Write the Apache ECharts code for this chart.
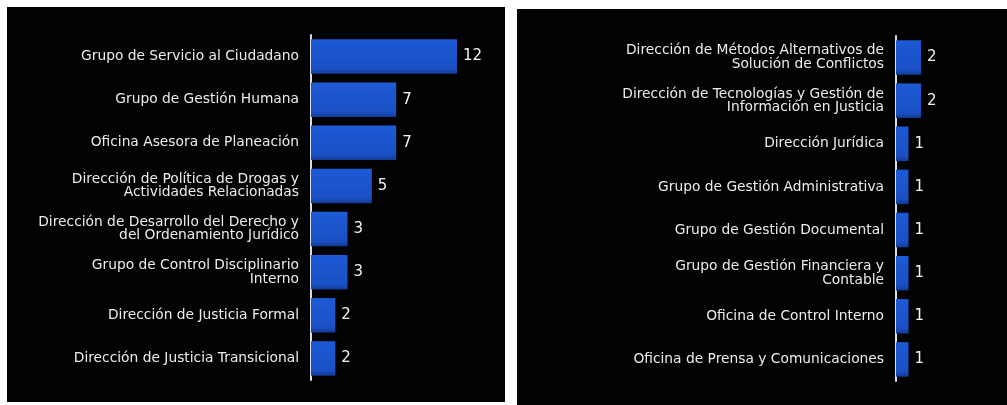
<!DOCTYPE html>
<html>
<head>
<meta charset="utf-8">
<script src="https://cdn.jsdelivr.net/npm/echarts@6/dist/echarts.min.js"></script>
<style>
html,body{margin:0;padding:0;background:#fff;}
#c{width:1007px;height:405px;}
</style>
</head>
<body>
<div id="c"></div>
<script>
// Data
var leftCategories = [
  'Grupo de Servicio al Ciudadano',
  'Grupo de Gestión Humana',
  'Oficina Asesora de Planeación',
  'Dirección de Política de Drogas y\nActividades Relacionadas',
  'Dirección de Desarrollo del Derecho y\ndel Ordenamiento Jurídico',
  'Grupo de Control Disciplinario\nInterno',
  'Dirección de Justicia Formal',
  'Dirección de Justicia Transicional'
];
var leftValues = [12, 7, 7, 5, 3, 3, 2, 2];

var rightCategories = [
  'Dirección de Métodos Alternativos de\nSolución de Conflictos',
  'Dirección de Tecnologías y Gestión de\nInformación en Justicia',
  'Dirección Jurídica',
  'Grupo de Gestión Administrativa',
  'Grupo de Gestión Documental',
  'Grupo de Gestión Financiera y\nContable',
  'Oficina de Control Interno',
  'Oficina de Prensa y Comunicaciones'
];
var rightValues = [2, 2, 1, 1, 1, 1, 1, 1];

var FONT = 'DejaVu Sans';
var barColor = new echarts.graphic.LinearGradient(0, 0, 0, 1, [
  {offset: 0, color: '#1d5ad6'},
  {offset: 0.85, color: '#1a50c4'},
  {offset: 1, color: '#123a94'}
]);

function catAxis(idx, cats) {
  return {
    type: 'category', gridIndex: idx, data: cats, inverse: true,
    axisLine: {show: true, lineStyle: {color: '#d6dce8', width: 2}},
    axisTick: {show: false},
    axisLabel: {color: '#ececec', fontFamily: FONT, fontSize: 13.8, lineHeight: 13.5, margin: 12, align: 'right'}
  };
}
function valAxis(idx, max) {
  return {
    type: 'value', gridIndex: idx, min: 0, max: max,
    show: false, splitLine: {show: false}
  };
}
function barSeries(idx, vals) {
  return {
    type: 'bar', xAxisIndex: idx, yAxisIndex: idx, data: vals,
    barCategoryGap: '20%',
    itemStyle: {color: barColor},
    label: {show: true, position: 'right', distance: 6, color: '#f2f2f2',
      fontFamily: FONT, fontSize: 15},
    silent: true, animation: false
  };
}

var chart = echarts.init(document.getElementById('c'), null, {renderer: 'canvas'});
chart.setOption({
  backgroundColor: '#ffffff',
  animation: false,
  graphic: [
    {type: 'rect', shape: {x: 7, y: 7, width: 498, height: 395}, style: {fill: '#020202'}, z: -10},
    {type: 'rect', shape: {x: 517, y: 9, width: 490, height: 396}, style: {fill: '#020202'}, z: -10}
  ],
  grid: [
    {left: 311, top: 35, width: 146, height: 345},
    {left: 896, top: 36, width: 25, height: 345}
  ],
  xAxis: [valAxis(0, 12), valAxis(1, 2)],
  yAxis: [catAxis(0, leftCategories), catAxis(1, rightCategories)],
  series: [barSeries(0, leftValues), barSeries(1, rightValues)]
});
</script>
</body>
</html>
